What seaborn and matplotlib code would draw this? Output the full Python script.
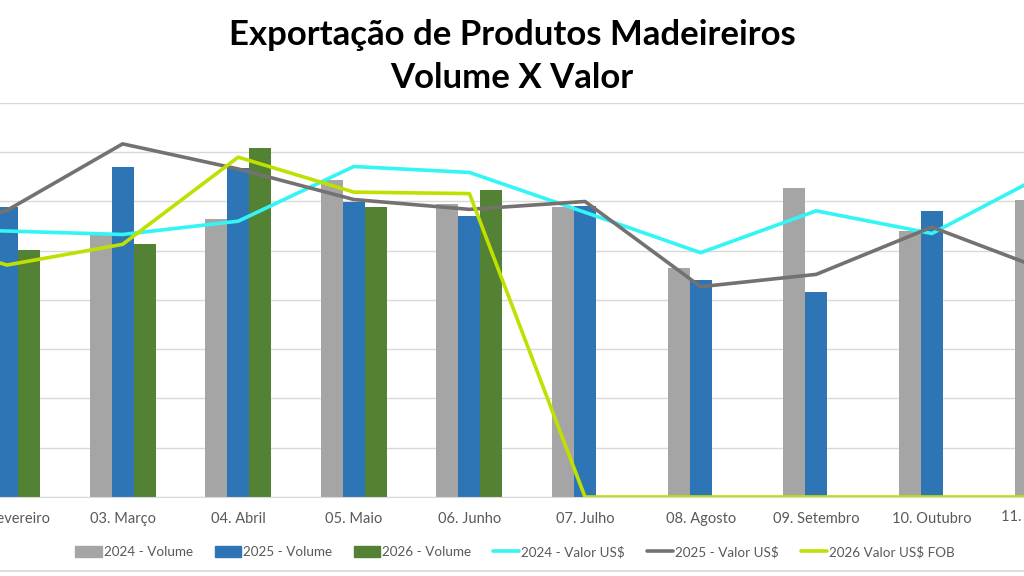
import numpy as np
import pandas as pd
import seaborn as sns
import matplotlib.pyplot as plt
from matplotlib.patches import Patch
from matplotlib.lines import Line2D
from matplotlib.transforms import blended_transform_factory

# meses (Jan e Nov ficam cortados nas bordas, como na imagem original)
meses = ['01. Janeiro', '02. Fevereiro', '03. Março', '04. Abril', '05. Maio', '06. Junho',
         '07. Julho', '08. Agosto', '09. Setembro', '10. Outubro', '11. Novembro']

# volumes (escala normalizada às linhas de grade)
vol_2024 = [5.6, 5.5, 5.31, 5.65, 6.43, 5.94, 5.88, 4.64, 6.27, 5.40, 6.02]
vol_2025 = [5.5, 5.89, 6.71, 6.68, 5.99, 5.71, 5.91, 4.41, 4.16, 5.80, 5.9]
vol_2026 = [4.8, 5.01, 5.14, 7.09, 5.88, 6.23, 0, 0, 0, 0, 0]

# valores US$
val_2024 = [5.45, 5.40, 5.33, 5.60, 6.71, 6.59, 5.78, 4.96, 5.81, 5.35, 6.58]
val_2025 = [5.2, 5.82, 7.17, 6.66, 6.04, 5.84, 6.00, 4.27, 4.52, 5.48, 4.59]
val_2026 = [5.4, 4.71, 5.13, 6.90, 6.19, 6.16, 0, 0, 0, 0, 0]

cores_barras = ['#A5A5A5', '#2E75B6', '#548235']
nomes_barras = ['2024 - Volume', '2025 - Volume', '2026 - Volume']
cores_linhas = ['#33F5F5', '#767171', '#BFE000']
nomes_linhas = ['2024 - Valor US$', '2025 - Valor US$', '2026 Valor US$ FOB']

df_vol = pd.DataFrame({'mes': meses * 3,
                       'serie': np.repeat(nomes_barras, len(meses)),
                       'valor': vol_2024 + vol_2025 + vol_2026})

sns.set_style('white')
plt.rcParams['font.family'] = ['Lato', 'DejaVu Sans']

fig = plt.figure(figsize=(10.24, 5.76), dpi=100)
ax = fig.add_axes([0, 0.1372, 1, 0.684])

sns.barplot(data=df_vol, x='mes', y='valor', hue='serie', palette=cores_barras,
            width=0.57, ax=ax, legend=False, saturation=1, errorbar=None, linewidth=0)

x = np.arange(len(meses))
for vals, cor in zip([val_2024, val_2025, val_2026], cores_linhas):
    sns.lineplot(x=x, y=vals, color=cor, linewidth=2.6, ax=ax, sort=False)

ax.set_yticks(np.arange(0, 9, 1))
ax.set_yticklabels([])
ax.tick_params(axis='y', length=0)
ax.grid(axis='y', color='#D9D9D9', linewidth=1)
ax.set_axisbelow(True)
ax.set_xticks(x)
ax.set_xticklabels(meses, fontsize=10.5, color='#595959')
ax.tick_params(axis='x', length=0, pad=11)
ax.set_xlabel('')
ax.set_ylabel('')
for s in ['top', 'right', 'left']:
    ax.spines[s].set_visible(False)
ax.spines['bottom'].set_color('#D9D9D9')
ax.set_xlim(0.9394, 9.797)
ax.set_ylim(0, 8)

# rótulo do último mês, cortado na borda direita
trans = blended_transform_factory(ax.transData, fig.transFigure)
ax.text(x[-1], 1 - 517 / 576, meses[-1], transform=trans, ha='center', va='center',
        fontsize=10.5, color='#595959', clip_on=False)

fig.text(0.5, 1 - 35 / 576, 'Exportação de Produtos Madeireiros', ha='center', va='center',
         fontsize=25, fontweight='bold', color='black')
fig.text(0.5, 1 - 78 / 576, 'Volume X Valor', ha='center', va='center',
         fontsize=25, fontweight='bold', color='black')

handles = [Patch(color=c, label=n) for c, n in zip(cores_barras, nomes_barras)]
handles += [Line2D([0], [0], color=c, linewidth=2.6, label=n) for c, n in zip(cores_linhas, nomes_linhas)]
leg = fig.legend(handles=handles, loc='center', bbox_to_anchor=(0.503, 1 - 552 / 576), ncol=6,
                 frameon=False, fontsize=9.7, handlelength=1.95, handleheight=0.9, handletextpad=0.15,
                 columnspacing=1.62, labelcolor='#595959')

fig.add_artist(Line2D([0, 1], [1 - 571 / 576] * 2, color='#D9D9D9', linewidth=1.2))

fig.savefig('out.png', dpi=100)
